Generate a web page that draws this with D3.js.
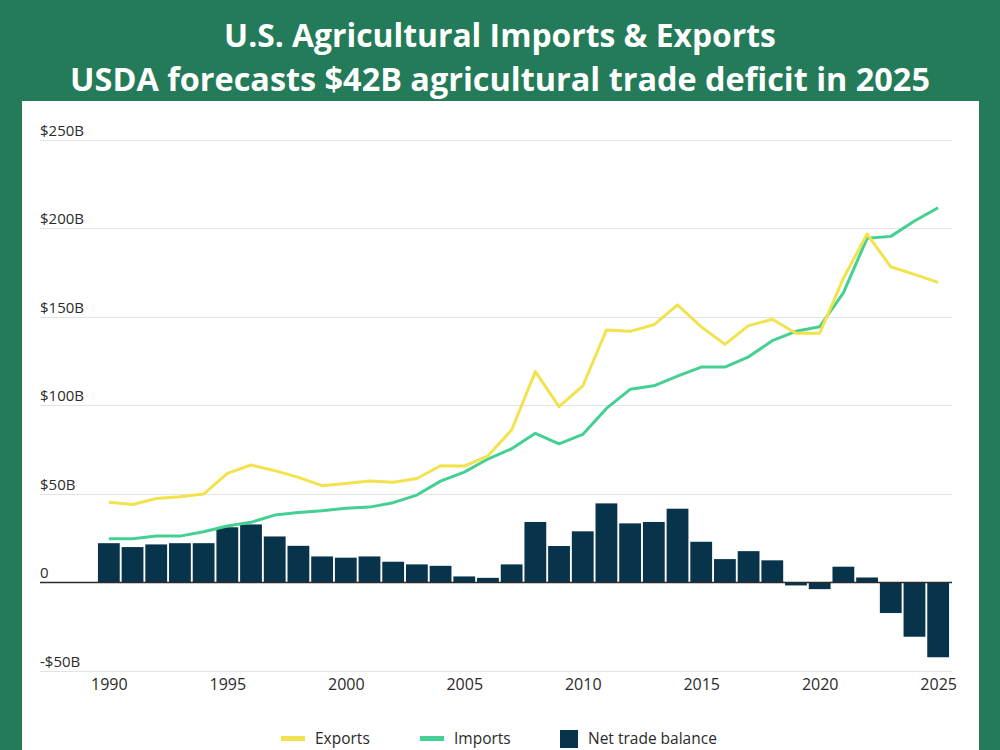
<!DOCTYPE html>
<html>
<head>
<meta charset="utf-8">
<script src="https://cdn.jsdelivr.net/npm/d3@7"></script>
<style>
  html, body { margin: 0; padding: 0; background: #247b59; }
  svg { display: block; }
</style>
</head>
<body>
<svg id="chart" width="1000" height="750"></svg>
<script>
const years = d3.range(1990, 2026);
const exportsVals = [45.2, 43.9, 47.3, 48.3, 49.8, 61.5, 66.2, 63.0, 59.2, 54.5,
  55.8, 57.1, 56.4, 58.6, 65.8, 65.6, 71.4, 86.0, 119.0, 99.2,
  110.9, 142.5, 141.8, 145.5, 156.8, 144.4, 134.4, 145.0, 148.6, 140.7,
  140.7, 171.8, 196.8, 178.3, 174.0, 169.5];
const importsVals = [24.5, 24.5, 26.0, 26.0, 28.5, 31.7, 33.8, 37.9, 39.4, 40.3,
  41.7, 42.4, 44.9, 49.2, 57.1, 62.2, 69.6, 75.4, 84.1, 78.2,
  83.5, 98.2, 109.0, 111.0, 116.5, 121.6, 121.6, 127.4, 136.5, 141.8,
  144.4, 163.6, 194.4, 195.5, 204.2, 211.7];
const netVals = [22.0, 19.8, 21.3, 22.0, 22.0, 31.0, 32.6, 25.8, 20.5, 14.5,
  13.8, 14.5, 11.5, 10.0, 9.2, 3.2, 2.4, 10.0, 34.0, 20.4,
  28.7, 44.5, 33.2, 34.0, 41.5, 22.8, 13.0, 17.5, 12.3, -1.9,
  -4.0, 8.7, 2.6, -17.5, -30.9, -42.5];
const yTicks = [-50, 0, 50, 100, 150, 200, 250];
const yTickLabels = ["-$50B", "0", "$50B", "$100B", "$150B", "$200B", "$250B"];
const xTicks = [1990, 1995, 2000, 2005, 2010, 2015, 2020, 2025];
const titleLines = ["U.S. Agricultural Imports & Exports", "USDA forecasts $42B agricultural trade deficit in 2025"];
const legendItems = ["Exports", "Imports", "Net trade balance"];

const colors = { bg: "#247b59", exports: "#f2e34e", imports: "#45d093", net: "#07344a" };
const font = "'Open Sans', 'Noto Sans', sans-serif";

const svg = d3.select("#chart");

// background
svg.append("rect").attr("x", 0).attr("y", 0).attr("width", 1000).attr("height", 750).attr("fill", colors.bg);
svg.append("rect").attr("x", 22).attr("y", 101).attr("width", 957).attr("height", 660).attr("fill", "#ffffff");

// title
const titleSpecs = [{ y: 47, w: 552 }, { y: 91, w: 860 }];
titleLines.forEach((t, i) => {
  const el = svg.append("text")
    .attr("x", 500).attr("y", titleSpecs[i].y)
    .attr("text-anchor", "middle")
    .attr("fill", "#ffffff")
    .attr("font-family", font)
    .attr("font-weight", 700)
    .attr("font-size", 29)
    .text(t);
  const len = el.node().getComputedTextLength();
  if (len > 0) el.attr("font-size", 29 * titleSpecs[i].w / len);
});

// scales
const x = d3.scaleBand().domain(years).range([97, 950]).paddingInner(0.08).paddingOuter(0.04);
const y = d3.scaleLinear().domain([-50, 250]).range([670.5, 140]);
const cx = d => x(d) + x.bandwidth() / 2;

// grid
svg.append("g").selectAll("line").data(yTicks.filter(d => d !== 0)).join("line")
  .attr("x1", 40).attr("x2", 952)
  .attr("y1", d => Math.round(y(d)) + 0.5).attr("y2", d => Math.round(y(d)) + 0.5)
  .attr("stroke", "#e3e3e3")
  .attr("stroke-width", 1.2);

// y labels
svg.append("g").selectAll("text").data(yTicks).join("text")
  .attr("x", 40).attr("y", d => y(d) - 4)
  .attr("fill", "#2b2b2b")
  .attr("font-family", font)
  .attr("font-size", 15)
  .text((d, i) => yTickLabels[i]);

// bars
svg.append("g").selectAll("rect").data(years).join("rect")
  .attr("x", d => x(d))
  .attr("width", x.bandwidth())
  .attr("y", (d, i) => y(Math.max(0, netVals[i])))
  .attr("height", (d, i) => Math.abs(y(netVals[i]) - y(0)))
  .attr("fill", colors.net);

// zero line over bars
svg.append("line")
  .attr("x1", 40).attr("x2", 952)
  .attr("y1", Math.round(y(0)) + 0.5).attr("y2", Math.round(y(0)) + 0.5)
  .attr("stroke", "#2b2b2b").attr("stroke-width", 1.6);

// lines
const lineGen = vals => d3.line().x((d, i) => cx(years[i])).y(d => y(d))(vals);
svg.append("path").attr("d", lineGen(importsVals))
  .attr("fill", "none").attr("stroke", colors.imports).attr("stroke-width", 3).attr("stroke-linejoin", "round");
svg.append("path").attr("d", lineGen(exportsVals))
  .attr("fill", "none").attr("stroke", colors.exports).attr("stroke-width", 3).attr("stroke-linejoin", "round");

// x axis labels
const xAxis = d3.axisBottom(d3.scaleLinear().domain([1990, 2025]).range([cx(1990), cx(2025)]))
  .tickValues(xTicks).tickFormat(d3.format("d")).tickSize(0);
const xg = svg.append("g").attr("transform", "translate(0,676)").call(xAxis);
xg.select(".domain").remove();
xg.selectAll("text")
  .attr("fill", "#2b2b2b")
  .attr("font-family", font)
  .attr("font-size", 16)
  .attr("dy", "0.71em");

// legend
const lg = svg.append("g");
const legendX = [281, 420, 560];
const legendTextX = [315, 454, 588];
lg.append("rect").attr("x", legendX[0]).attr("y", 736).attr("width", 24).attr("height", 5).attr("fill", colors.exports);
lg.append("rect").attr("x", legendX[1]).attr("y", 736).attr("width", 24).attr("height", 5).attr("fill", colors.imports);
lg.append("rect").attr("x", legendX[2]).attr("y", 730).attr("width", 18).attr("height", 18).attr("fill", colors.net);
legendItems.forEach((t, i) => {
  lg.append("text")
    .attr("x", legendTextX[i]).attr("y", 744)
    .attr("fill", "#2b2b2b")
    .attr("font-family", font)
    .attr("font-size", 15.5)
    .text(t);
});
</script>
</body>
</html>
